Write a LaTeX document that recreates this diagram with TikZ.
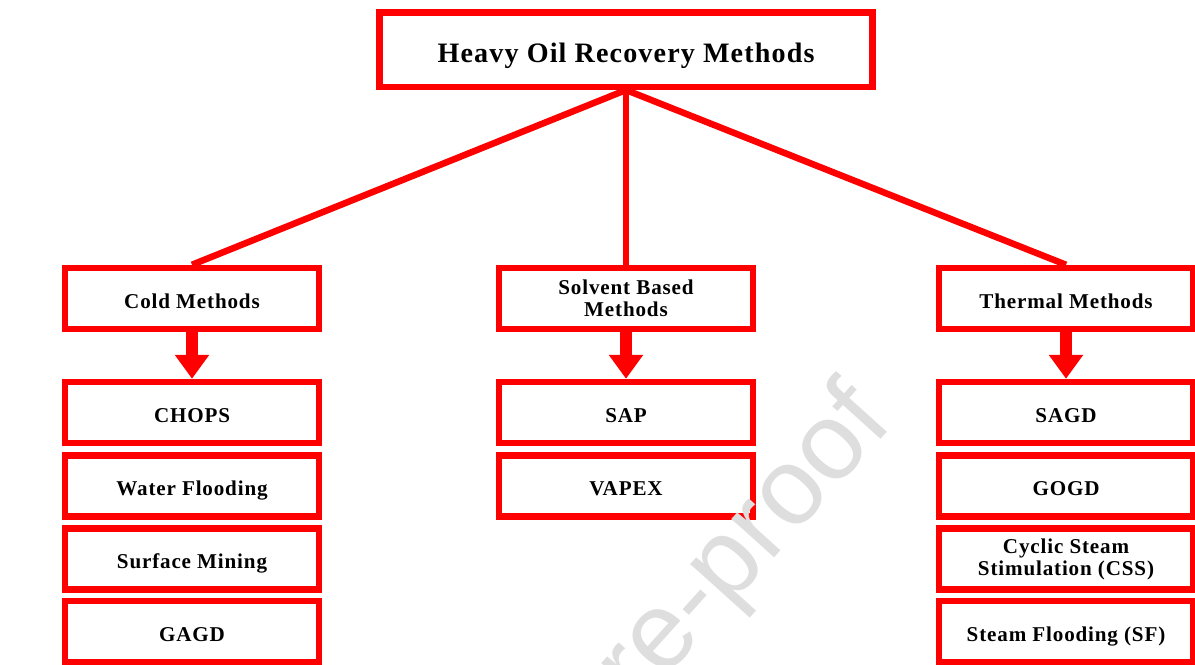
\documentclass[tikz,border=0pt]{standalone}
\usepackage{fontspec}
\setmainfont{Liberation Serif}[LetterSpace=4]
\newfontfamily\wmfont{Liberation Sans}
\usepackage{tikz}
\usetikzlibrary{arrows.meta}
\definecolor{boxred}{RGB}{255,0,0}
\definecolor{wmgray}{RGB}{222,222,222}
\tikzstyle{method_box}=[draw=boxred, line width=0.13cm, fill=white, minimum width=5.08cm, minimum height=1.22cm, inner sep=2pt, align=center, font=\fontsize{12}{12.5}\selectfont\bfseries]
\tikzstyle{one_line}=[text height=11.3pt, text depth=0pt]
\tikzstyle{root_box}=[method_box, minimum width=9.87cm, minimum height=1.49cm, text height=14.6pt, text depth=0pt, font=\fontsize{16}{18}\selectfont\bfseries]
\tikzstyle{branch}=[draw=boxred, line width=0.13cm]
\tikzstyle{down_arrow}=[draw=boxred, line width=0.24cm, -{Triangle[width=0.66cm,length=0.48cm]}]
\tikzstyle{watermark}=[text=wmgray, rotate=48, font=\wmfont\fontsize{62}{62}\selectfont]

\begin{document}
\begin{tikzpicture}[x=0.02cm,y=-0.02cm]
\useasboundingbox (0,0) rectangle (1195,664);
\node[root_box] (root) at (626,49.5){Heavy Oil Recovery Methods};
\node[method_box, one_line] (cold) at (192,298.5){Cold Methods};
\node[method_box] (solv) at (626,298.5){Solvent Based\\Methods};
\node[method_box, one_line] (therm) at (1066,298.5){Thermal Methods};
\draw[branch](root.south) -- (cold.north);
\draw[branch](root.south) -- (solv.north);
\draw[branch](root.south) -- (therm.north);
\node[method_box, one_line] (cold1) at (192,412.5){CHOPS};
\node[method_box, one_line] (cold2) at (192,486){Water Flooding};
\node[method_box, one_line] (cold3) at (192,559){Surface Mining};
\node[method_box, one_line] (cold4) at (192,631.5){GAGD};
\draw[down_arrow](cold) -- (cold1);
\node[method_box, one_line] (solv1) at (626,412.5){SAP};
\node[method_box, one_line] (solv2) at (626,486){VAPEX};
\draw[down_arrow](solv) -- (solv1);
\node[method_box, one_line] (therm1) at (1066,412.5){SAGD};
\node[method_box, one_line] (therm2) at (1066,486){GOGD};
\node[method_box] (therm3) at (1066,559){Cyclic Steam\\Stimulation (CSS)};
\node[method_box, one_line] (therm4) at (1066,631.5){Steam Flooding (SF)};
\draw[down_arrow](therm) -- (therm1);
\node[watermark] (wm) at (722,574){Pre-proof};
\end{tikzpicture}
\end{document}
